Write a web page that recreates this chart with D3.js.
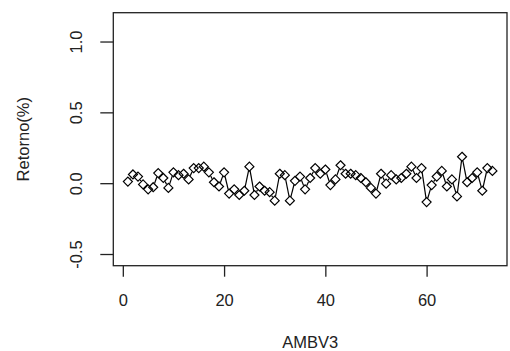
<!DOCTYPE html>
<html>
<head>
<meta charset="utf-8">
<script src="https://cdn.jsdelivr.net/npm/d3@7"></script>
<style>
  html,body{margin:0;padding:0;background:#fff;}
  svg{display:block;font-family:"Liberation Sans",Arial,sans-serif;}
</style>
</head>
<body>
<div id="chart"></div>
<script>
// Retornos diarios AMBV3 (type="b", pch diamante)
const retorno = [
  0.015, 0.065, 0.05, -0.005, -0.04, -0.025, 0.075, 0.04, -0.03, 0.08,
  0.06, 0.07, 0.03, 0.11, 0.11, 0.12, 0.08, 0.01, -0.02, 0.08,
  -0.07, -0.04, -0.08, -0.05, 0.12, -0.08, -0.02, -0.05, -0.06, -0.12,
  0.07, 0.06, -0.12, 0.02, 0.05, -0.04, 0.04, 0.11, 0.07, 0.10,
  -0.01, 0.03, 0.13, 0.07, 0.07, 0.06, 0.04, 0.01, -0.03, -0.07,
  0.07, 0.00, 0.06, 0.03, 0.04, 0.07, 0.12, 0.04, 0.11, -0.13,
  -0.01, 0.05, 0.09, -0.02, 0.03, -0.09, 0.19, 0.01, 0.04, 0.08,
  -0.05, 0.11, 0.09
];
const xTicks = [0, 20, 40, 60];
const yTicks = [-0.5, 0, 0.5, 1.0];
const yTickLabels = ["-0.5", "0.0", "0.5", "1.0"];
const xLabel = "AMBV3", yLabel = "Retorno(%)";

const W = 510, H = 351;
const box = {l:113.3, r:507, t:12.7, b:265.7};
const data = retorno.map((v,i)=>({i:i+1, v}));

const x = d3.scaleLinear().domain([-1.88, 75.88]).range([box.l, box.r]);
const y = d3.scaleLinear().domain([-0.579, 1.207]).range([box.b, box.t]);

const svg = d3.select("#chart").append("svg").attr("width",W).attr("height",H);
const ink = "#222";
const fs = 16.5;

// caja
svg.append("rect").attr("x",box.l).attr("y",box.t)
  .attr("width",box.r-box.l).attr("height",box.b-box.t)
  .attr("fill","none").attr("stroke",ink).attr("stroke-width",1.3);

// eje x
const ax = d3.axisBottom(x).tickValues(xTicks).tickSize(11).tickPadding(18).tickFormat(d3.format("d"));
svg.append("g").attr("transform",`translate(0,${box.b})`).call(ax)
  .call(g=>g.select(".domain").remove())
  .call(g=>g.selectAll("line").attr("stroke",ink).attr("stroke-width",1.3))
  .call(g=>g.selectAll("text").attr("font-size",fs).attr("fill",ink).attr("font-family","Liberation Sans, Arial, sans-serif"));

// eje y (etiquetas giradas como en R)
const yg = svg.append("g");
yg.selectAll("line").data(yTicks).join("line")
  .attr("x1",box.l-13).attr("x2",box.l).attr("y1",d=>y(d)).attr("y2",d=>y(d))
  .attr("stroke",ink).attr("stroke-width",1.3);
yg.selectAll("text").data(yTicks).join("text")
  .attr("transform",d=>`translate(82,${y(d)}) rotate(-90)`)
  .attr("text-anchor","middle").attr("font-size",fs).attr("fill",ink)
  .text((d,i)=>yTickLabels[i]);

svg.append("text").attr("x",(box.l+box.r)/2).attr("y",348)
  .attr("text-anchor","middle").attr("font-size",fs).attr("fill",ink).text(xLabel);
svg.append("text").attr("transform",`translate(29,${(box.t+box.b)/2}) rotate(-90)`)
  .attr("text-anchor","middle").attr("font-size",fs).attr("fill",ink).text(yLabel);

// segmentos con hueco alrededor de los puntos (type="b")
const gap = 4;
const segs = d3.pairs(data).map(([a,b])=>{
  const x1=x(a.i), y1=y(a.v), x2=x(b.i), y2=y(b.v);
  const len=Math.hypot(x2-x1,y2-y1);
  if(len<=2*gap) return null;
  const ux=(x2-x1)/len, uy=(y2-y1)/len;
  return {x1:x1+ux*gap, y1:y1+uy*gap, x2:x2-ux*gap, y2:y2-uy*gap};
}).filter(Boolean);
svg.append("g").selectAll("line").data(segs).join("line")
  .attr("x1",d=>d.x1).attr("y1",d=>d.y1).attr("x2",d=>d.x2).attr("y2",d=>d.y2)
  .attr("stroke","#000").attr("stroke-width",1.2);

// diamantes
const r = 4.5;
svg.append("g").selectAll("path").data(data).join("path")
  .attr("d",d=>{const cx=x(d.i), cy=y(d.v); return `M${cx},${cy-r}L${cx+r},${cy}L${cx},${cy+r}L${cx-r},${cy}Z`;})
  .attr("fill","none").attr("stroke","#000").attr("stroke-width",1.2);
</script>
</body>
</html>
